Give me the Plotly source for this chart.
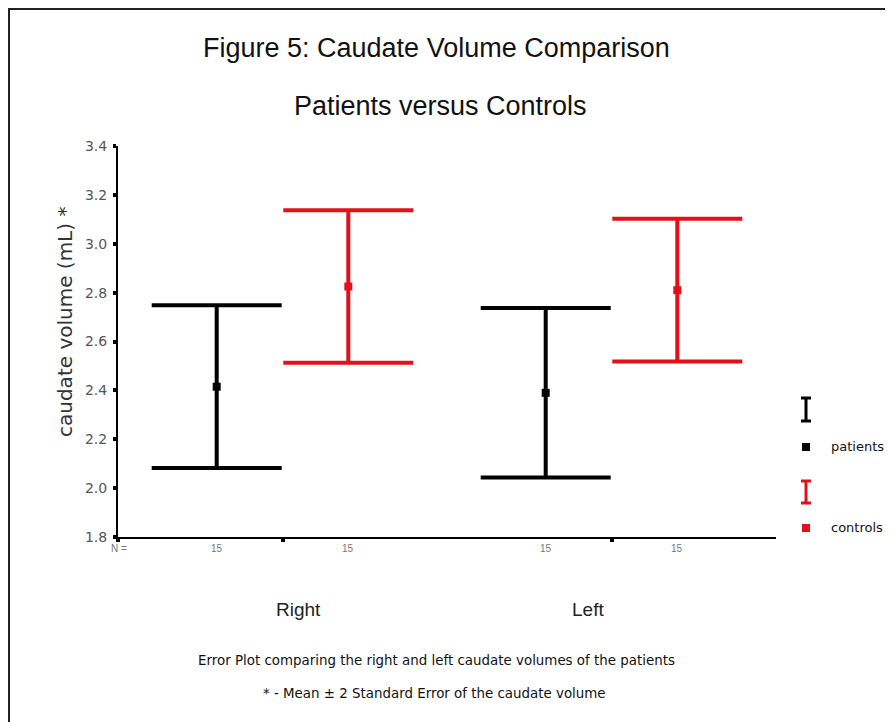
import plotly.graph_objects as go

# ---- data ----
sides = ["Right", "Left"]
group_names = ["patients", "controls"]
n_labels = ["15", "15", "15", "15"]
patients_mean = [2.415, 2.39]
patients_2se = [0.333, 0.347]
controls_mean = [2.825, 2.81]
controls_2se = [0.312, 0.292]
y_ticks = [1.8, 2.0, 2.2, 2.4, 2.6, 2.8, 3.0, 3.2, 3.4]

# category positions along the x axis (two groups, gap between)
patients_x = [1.0, 3.5]
controls_x = [2.0, 4.5]
group_centres = [1.5, 4.0]

BLACK = "#000000"
RED = "#e3101a"
ARIAL = "Liberation Sans, Arial, sans-serif"
WIDE = "DejaVu Sans, Verdana, sans-serif"

W, H = 893, 722
OFF = 8                      # page body margin
SL, ST = 118, 146            # screen position of plot area's top-left
PW, PH = 658, 391            # plot area size
ML, MT = SL - OFF, ST - OFF
MR, MB = W - ML - PW, H - MT - PH


def px2x(px):
    return (px - SL) / PW


def px2y(py):
    return (ST + PH - py) / PH


def note(text, px, py, size, color="#111111", family=ARIAL, xref="paper", x=None,
         xanchor="center", angle=0):
    return dict(text=text, x=px2x(px) if x is None else x, y=px2y(py),
                xref=xref, yref="paper", showarrow=False,
                xanchor=xanchor, yanchor="middle", textangle=angle,
                font=dict(size=size, color=color, family=family))


fig = go.Figure()

fig.add_trace(go.Scatter(
    x=patients_x, y=patients_mean, mode="markers", name=group_names[0],
    marker=dict(symbol="square", size=8, color=BLACK),
    error_y=dict(type="data", array=patients_2se, visible=True,
                 color=BLACK, thickness=4, width=65),
    showlegend=False,
))
fig.add_trace(go.Scatter(
    x=controls_x, y=controls_mean, mode="markers", name=group_names[1],
    marker=dict(symbol="square", size=8, color=RED),
    error_y=dict(type="data", array=controls_2se, visible=True,
                 color=RED, thickness=4, width=65),
    showlegend=False,
))

annotations = []
# titles
annotations.append(note("Figure 5: Caudate Volume Comparison", 436, 48, 27))
annotations.append(note("Patients versus Controls", 440, 106, 27))
# y axis title
annotations.append(note("caudate volume (mL) *", 65, 322, 20, color="#333333", family=WIDE, angle=-90))
# N = row
annotations.append(note("N =", 119, 548, 10, color="#777777"))
for xv, lab in zip(patients_x + controls_x, [n_labels[0], n_labels[2], n_labels[1], n_labels[3]]):
    annotations.append(note(lab, 0, 548, 10, color="#777777", xref="x", x=xv))
# side labels
for px, lab in zip([298, 588], sides):
    annotations.append(note(lab, px, 609, 19, color="#222222"))
# captions
annotations.append(note("Error Plot comparing the right and left caudate volumes of the patients",
                        436, 660, 13.4, family=WIDE))
annotations.append(note("* - Mean \u00b1 2 Standard Error of the caudate volume",
                        434, 693, 13.4, family=WIDE))
# legend labels
annotations.append(note(group_names[0], 829, 446, 13, family=WIDE, xanchor="left"))
annotations.append(note(group_names[1], 829, 527, 13, family=WIDE, xanchor="left"))

shapes = []
# frame
shapes.append(dict(type="rect", xref="paper", yref="paper",
                   x0=px2x(9), x1=px2x(980), y0=px2y(800), y1=px2y(9),
                   line=dict(color="#222222", width=2), fillcolor="rgba(0,0,0,0)"))


def legend_glyph(cx, ytop, ybot, ysq, color):
    hw = 5
    out = []
    out.append(dict(type="line", xref="paper", yref="paper", x0=px2x(cx), x1=px2x(cx),
                    y0=px2y(ytop), y1=px2y(ybot), line=dict(color=color, width=3)))
    for yy in (ytop, ybot):
        out.append(dict(type="line", xref="paper", yref="paper", x0=px2x(cx - hw), x1=px2x(cx + hw),
                        y0=px2y(yy), y1=px2y(yy), line=dict(color=color, width=3)))
    out.append(dict(type="rect", xref="paper", yref="paper", x0=px2x(cx - 4), x1=px2x(cx + 4),
                    y0=px2y(ysq + 4), y1=px2y(ysq - 4), line=dict(width=0), fillcolor=color))
    return out


shapes += legend_glyph(806, 398, 421, 447, BLACK)
shapes += legend_glyph(806, 481, 503, 528, RED)

fig.update_layout(
    width=W, height=H,
    margin=dict(l=ML, r=MR, t=MT, b=MB, pad=0),
    paper_bgcolor="white", plot_bgcolor="white",
    font=dict(family=ARIAL),
    showlegend=False,
    annotations=annotations,
    shapes=shapes,
    xaxis=dict(range=[0.25, 5.25], showgrid=False, zeroline=False,
               showline=True, linecolor=BLACK, linewidth=2,
               tickvals=[0.25] + group_centres, ticktext=["", "", ""],
               ticks="outside", ticklen=3, tickwidth=4, tickcolor=BLACK),
    yaxis=dict(range=[1.8, 3.4], showgrid=False, zeroline=False,
               showline=True, linecolor=BLACK, linewidth=2,
               tickvals=y_ticks, ticktext=[f"{v:.1f}" for v in y_ticks],
               ticks="outside", ticklen=3, tickwidth=4, tickcolor=BLACK,
               ticklabelstandoff=3,
               tickfont=dict(size=14, color="#555555", family=WIDE)),
)

fig.write_html("out.html")
